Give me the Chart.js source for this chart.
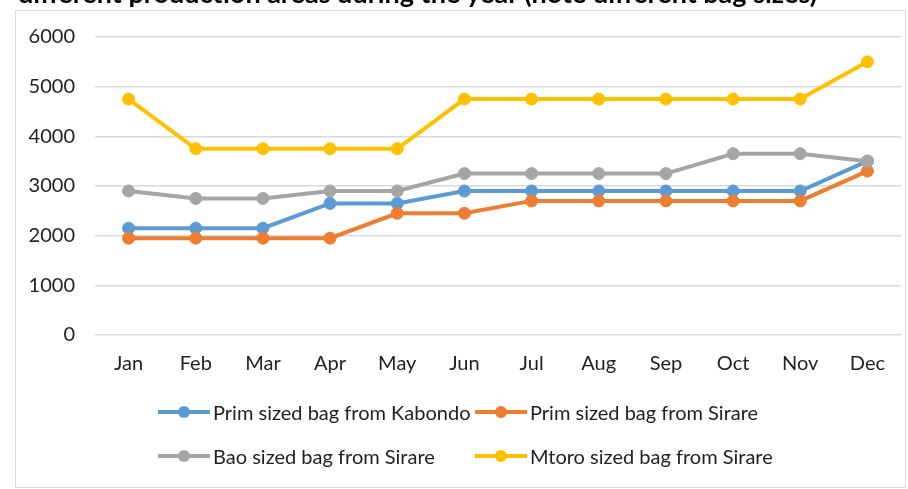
<!DOCTYPE html>
<html>
<head>
<meta charset="utf-8">
<script src="https://cdn.jsdelivr.net/npm/chart.js@4"></script>
<style>
  html, body { margin: 0; padding: 0; background: #fff; }
  #wrap { position: relative; width: 908px; height: 489px; overflow: hidden; }
  #chart { position: absolute; left: 0; top: 0; }
  #title {
    position: absolute; left: 18px; top: -21px; white-space: nowrap;
    font: bold 27px Lato, sans-serif; line-height: 27px; color: #000;
  }
  .item { position: absolute; display: flex; align-items: center; font: 20px Lato, sans-serif; color: #222; white-space: nowrap; }
  .swatch { position: relative; width: 52px; height: 14px; margin-right: 3px; }
  .swatch .ln { position: absolute; left: 0; right: 0; top: 5px; height: 4px; }
  .swatch .dot { position: absolute; left: 20px; top: 1px; width: 12px; height: 12px; border-radius: 50%; }
</style>
</head>
<body>
<div id="wrap">
  <canvas id="chart" width="908" height="489"></canvas>
  <div id="title">different production areas during the year (note different bag sizes)</div>
  <div id="legend"></div>
</div>
<script>
const months = ["Jan","Feb","Mar","Apr","May","Jun","Jul","Aug","Sep","Oct","Nov","Dec"];
const seriesNames = [
  "Prim sized bag from Kabondo",
  "Prim sized bag from Sirare",
  "Bao sized bag from Sirare",
  "Mtoro sized bag from Sirare"
];
const primKabondo = [2150, 2150, 2150, 2650, 2650, 2900, 2900, 2900, 2900, 2900, 2900, 3500];
const primSirare  = [1950, 1950, 1950, 1950, 2450, 2450, 2700, 2700, 2700, 2700, 2700, 3300];
const baoSirare   = [2900, 2750, 2750, 2900, 2900, 3250, 3250, 3250, 3250, 3650, 3650, 3500];
const mtoroSirare = [4750, 3750, 3750, 3750, 3750, 4750, 4750, 4750, 4750, 4750, 4750, 5500];
const yTicks = [0, 1000, 2000, 3000, 4000, 5000, 6000];
const colors = ["#5B9BD5", "#ED7D31", "#A5A5A5", "#FFC000"];

const values = [primKabondo, primSirare, baoSirare, mtoroSirare];

function line(i) {
  return {
    label: seriesNames[i],
    data: values[i],
    borderColor: colors[i],
    backgroundColor: colors[i],
    borderWidth: 4,
    pointRadius: 6,
    pointBorderWidth: 1,
    pointHoverRadius: 6,
    tension: 0,
    order: 4 - i
  };
}

// outer frame around the plot
const frame = {
  id: 'frame',
  beforeDraw(chart) {
    const ctx = chart.ctx;
    ctx.save();
    ctx.strokeStyle = '#d9d9d9';
    ctx.lineWidth = 1;
    ctx.strokeRect(15.5, 10.5, 890, 477);
    ctx.restore();
  }
};

const chart = new Chart(document.getElementById('chart'), {
  type: 'line',
  data: {
    labels: months,
    datasets: values.map((v, i) => line(i))
  },
  options: {
    responsive: false,
    animation: false,
    layout: { padding: { left: 0, top: 37, right: 3, bottom: 100 } },
    plugins: { legend: { display: false }, tooltip: { enabled: false } },
    scales: {
      x: {
        offset: true,
        grid: { display: false, drawTicks: false },
        border: { display: false },
        ticks: { color: '#222', font: { family: 'Lato', size: 20 }, padding: 17 },
        afterFit(scale) { scale.height = 54; }
      },
      y: {
        min: 0, max: 6000,
        afterBuildTicks(scale) { scale.ticks = yTicks.map(v => ({ value: v })); },
        grid: { color: '#d9d9d9', lineWidth: 1.5, drawTicks: false },
        border: { display: false },
        ticks: {
          color: '#222', font: { family: 'Lato', size: 20 }, padding: 20,
          callback: v => String(v)
        },
        afterFit(scale) { scale.width = 95; }
      }
    }
  },
  plugins: [frame]
});

// two-row legend under the plot
const spots = [[158, 400], [475, 400], [158, 444], [475, 444]];
const legend = document.getElementById('legend');
chart.data.datasets.forEach((ds, i) => {
  const el = document.createElement('div');
  el.className = 'item';
  el.style.left = spots[i][0] + 'px';
  el.style.top = spots[i][1] + 'px';
  el.innerHTML = '<span class="swatch"><span class="ln"></span><span class="dot"></span></span>' + ds.label;
  el.querySelector('.ln').style.background = ds.borderColor;
  el.querySelector('.dot').style.background = ds.borderColor;
  legend.appendChild(el);
});
</script>
</body>
</html>
